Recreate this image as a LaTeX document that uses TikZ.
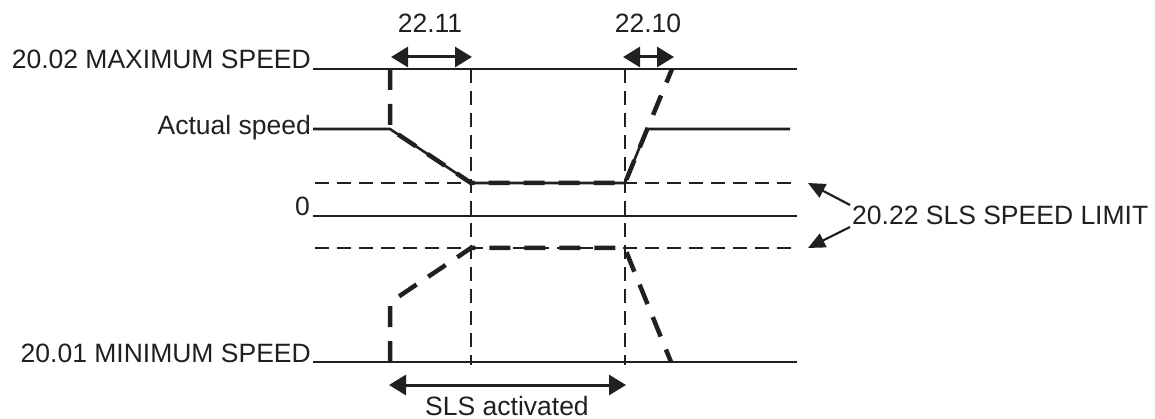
\documentclass[tikz,border=0pt]{standalone}
\usepackage{fontspec}
\setmainfont{Liberation Sans}
\usetikzlibrary{arrows.meta}
\definecolor{ink}{HTML}{231F20}
\begin{document}
\begin{tikzpicture}[x=1pt,y=-1pt,
  lbl/.style={font=\fontsize{26.5}{30}\selectfont, inner sep=0pt, text=ink},
  refline/.style={draw=ink, line width=1.3pt},
  guide/.style={draw=ink, line width=1.2pt, dash pattern=on 14pt off 8pt},
  actual/.style={draw=ink, line width=2.6pt, line join=miter},
  limit/.style={draw=ink, line width=4.5pt, dash pattern=on 21pt off 14pt, line join=miter},
  dimarrow/.style={draw=ink, line width=3pt, {Triangle[length=17pt,width=20pt]}-{Triangle[length=17pt,width=20pt]}},
  pointer/.style={draw=ink, line width=2.2pt, -{Triangle[length=17pt,width=15pt]}}
  ]
\useasboundingbox (0,0) rectangle (1155,419);

% coordinates
\coordinate (maxL) at (313,69);  \coordinate (maxR) at (797,69);
\coordinate (zeroL) at (313,216); \coordinate (zeroR) at (797,216);
\coordinate (minL) at (313,362); \coordinate (minR) at (797,362);
\coordinate (upL) at (315,183); \coordinate (upR) at (797,183);
\coordinate (loL) at (315,248); \coordinate (loR) at (797,248);
\coordinate (v1T) at (471,69); \coordinate (v1B) at (471,365);
\coordinate (v2T) at (625,69); \coordinate (v2B) at (625,365);

% labels
\node[lbl, anchor=base east] (maxlbl) at (311,69) {20.02 MAXIMUM SPEED};
\node[lbl, anchor=base east] (actlbl) at (311,135) {Actual speed};
\node[lbl, anchor=base east] (zerolbl) at (310,216) {0};
\node[lbl, anchor=base east] (minlbl) at (311,362) {20.01 MINIMUM SPEED};
\node[lbl, anchor=base] (t11) at (430,33) {22.11};
\node[lbl, anchor=base] (t10) at (648,33) {22.10};
\node[lbl, anchor=base] (slsact) at (507,415) {SLS activated};
\node[lbl, anchor=base west] (slslim) at (852,225) {20.22 SLS SPEED LIMIT};

% reference lines
\draw[refline] (maxL) -- (maxR);
\draw[refline] (zeroL) -- (zeroR);
\draw[refline] (minL) -- (minR);
\draw[guide] (upL) -- (upR);
\draw[guide] (loL) -- (loR);
\draw[guide] (v1T) -- (v1B);
\draw[guide] (v2T) -- (v2B);

% actual speed
\coordinate (a0) at (313,129);
\coordinate (a1) at (390,129);
\coordinate (a2) at (471,183);
\coordinate (a3) at (625,183);
\coordinate (a4) at (647,129);
\coordinate (a5) at (790,129);
\draw[actual] (a0) -- (a1) -- (a2) -- (a3) -- (a4) -- (a5);

% upper limit (thick dashed)
\coordinate (u0) at (390,69);
\coordinate (u4) at (672,69);
\draw[limit] (u0) -- (a1) -- (a2) -- (a3) -- (u4);

% lower limit (thick dashed)
\coordinate (l0) at (390,362);
\coordinate (l1) at (390,304);
\coordinate (l2) at (398,297);
\coordinate (l3) at (471,248);
\coordinate (l4) at (625,248);
\coordinate (l5) at (628,256);
\coordinate (l6) at (671,362);
\draw[limit] (l0) -- (l1) -- (l2) -- (l3) -- (l4) -- (l5) -- (l6);

% dimension arrows
\coordinate (d11a) at (391,57); \coordinate (d11b) at (472,57);
\coordinate (d10a) at (623,57); \coordinate (d10b) at (674,57);
\coordinate (dsa) at (389,385); \coordinate (dsb) at (626,385);
\draw[dimarrow] (d11a) -- (d11b);
\draw[dimarrow] (d10a) -- (d10b);
\draw[dimarrow] (dsa) -- (dsb);

% pointers to the SLS speed limit
\coordinate (p1) at (850,205); \coordinate (p1t) at (808,183);
\coordinate (p2) at (850,227); \coordinate (p2t) at (808,248);
\draw[pointer] (p1) -- (p1t);
\draw[pointer] (p2) -- (p2t);
\end{tikzpicture}
\end{document}
